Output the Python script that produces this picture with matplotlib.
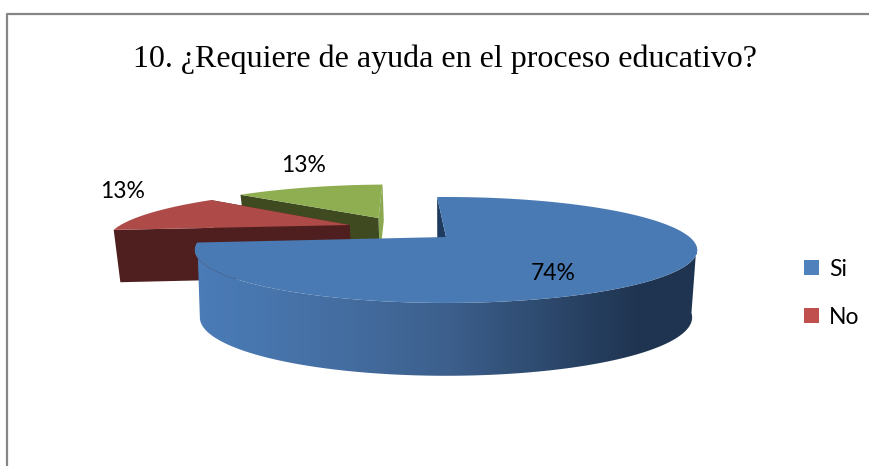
import matplotlib
matplotlib.use('Agg')
import matplotlib.pyplot as plt
from matplotlib.colors import LinearSegmentedColormap
from matplotlib.patches import Patch, Polygon
import numpy as np

title = "10. ¿Requiere de ayuda en el proceso educativo?"
shares = [74, 13, 13]
legend_names = ["Si", "No"]

# projection of the pie plane, tuned by eye (pixels)
CX, CY = 446, 237
R, H, K = 243.5, 49.8, 0.245
START = -2.6  # degrees clockwise from top

top_colors = ["#4a7ab3", "#ae4a47", "#8fae52"]
wall_colors = ["#1f3a5f", "#4e1f1e", "#3f4a21"]
far_wall_colors = [None, "#4e1f1e", "#8aa84f"]
legend_colors = ["#4f81bd", "#c0504d"]
offsets = [(0, 0), (-0.42, 0.256), (-0.306, 0.42)]
depths = [66, 53, 40]
label_pos = [(553, 274), (123, 192), (304, 166)]


def project(u, v, depth=0):
    w = 1 + K * v
    shrink = 0.98 if depth else 1.0
    x = CX + R * shrink * u / w
    y = CY - H * v / w + depth * (1 / w) ** 0.35
    return x, y


def rim(phi, off):
    rad = np.radians(phi)
    return np.sin(rad) + off[0], np.cos(rad) + off[1]


def radial_wall(ax, phi, off, depth, color, zorder):
    u, v = rim(phi, off)
    pts = [project(off[0], off[1]), project(u, v),
           project(u, v, depth), project(off[0], off[1], depth)]
    ax.fill(*zip(*pts), color=color, lw=0, zorder=zorder)


fig = plt.figure(figsize=(8.69, 4.66), dpi=100)
ax = fig.add_axes([0, 0, 1, 1])

# chart frame
ax.plot([7, 7, 869], [466, 14, 14], color="#868686", lw=1.6, zorder=1)

ax.text(445, 59, title, family="Liberation Serif", fontsize=23, ha="center", va="center", color="black")

# slice angles from the values
edges = START + np.cumsum([0] + shares) * 360.0 / sum(shares)

# green and red slices go behind the blue one, back to front
for i in [2, 1]:
    a0, a1 = edges[i], edges[i + 1]
    z = 5 - i
    off = offsets[i]
    radial_wall(ax, a1, off, depths[i], far_wall_colors[i], z)
    radial_wall(ax, a0, off, depths[i], wall_colors[i], z)
    arc = np.linspace(a0, a1, 40)
    us, vs = rim(arc, off)
    xs, ys = project(us, vs)
    ax.fill(np.r_[project(*off)[0], xs], np.r_[project(*off)[1], ys],
            color=top_colors[i], lw=0, zorder=z)

# blue slice: inner wall, shaded side, then top
radial_wall(ax, edges[0], offsets[0], depths[0], wall_colors[0], 6)

side_cmap = LinearSegmentedColormap.from_list("side", [
    (0.0, "#4a7bb6"), (0.03, "#4a7bb6"), (0.27, "#456fa3"), (0.505, "#3c5f8c"),
    (0.72, "#2b4669"), (0.875, "#1f3450"), (1.0, "#1f3450")])
side = np.linspace(100, edges[1], 260)
us, vs = rim(side, offsets[0])
tx, ty = project(us, vs)
bx, by = project(us, vs, depths[0])
# stop the lower rim at its leftmost point so the left edge has no notch
last = np.argmin(bx) + 1
side_poly = Polygon(np.c_[np.r_[tx, bx[:last][::-1]], np.r_[ty, by[:last][::-1]]], closed=True, transform=ax.transData, fc="none", ec="none")
ax.add_patch(side_poly)
grad = ax.imshow(np.linspace(0, 1, 512)[None, :], cmap=side_cmap, extent=[190, 705, 380, 230], aspect="auto", zorder=7)
grad.set_clip_path(side_poly)

arc = np.linspace(edges[0], edges[1], 300)
us, vs = rim(arc, offsets[0])
xs, ys = project(us, vs)
ax.fill(np.r_[CX, xs], np.r_[CY, ys], color=top_colors[0], lw=0, zorder=8)

for val, pos in zip(shares, label_pos):
    ax.text(pos[0], pos[1], "%d%%" % val, family="Lato", fontsize=16.5, ha="center", va="center", color="black", zorder=9)

handles = [Patch(facecolor=c, edgecolor="none") for c in legend_colors]
ax.legend(handles, legend_names, loc="upper left", bbox_to_anchor=(804 / 869, 1 - 258.5 / 466),
          prop={"family": "Lato", "size": 16.5}, frameon=False, handlelength=0.65, handleheight=0.65,
          handletextpad=0.45, labelspacing=1.18, borderpad=0, borderaxespad=0)

ax.set_xlim(0, 869)
ax.set_ylim(466, 0)
ax.axis('off')

plt.savefig("out.png", dpi=100)
